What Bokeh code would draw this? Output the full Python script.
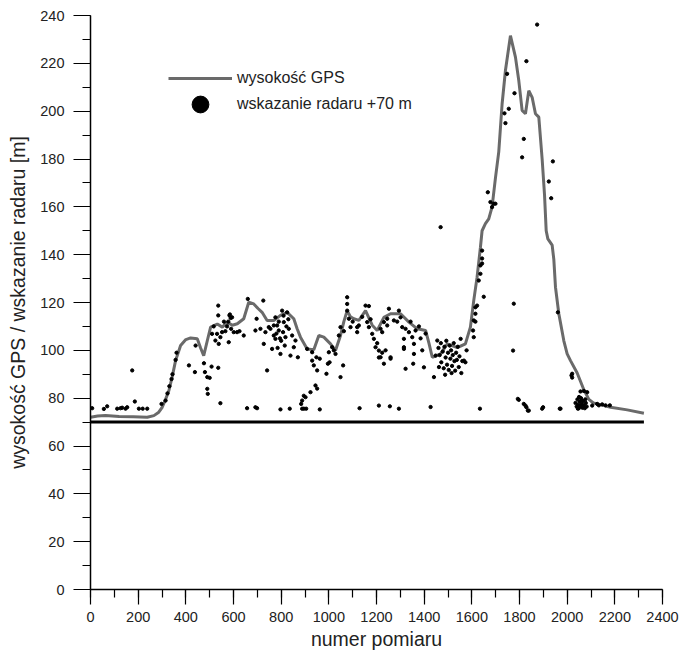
from bokeh.plotting import figure
from bokeh.models import SingleIntervalTicker, Legend, LegendItem, Range1d
from bokeh.embed import file_html
from bokeh.resources import INLINE

# ---------------- data ----------------
gps_x = [0, 30, 63, 120, 180, 238, 266, 285, 301, 315, 329, 343, 357, 378, 400, 420, 448, 462, 475,
         490, 504, 532, 553, 574, 595, 616, 643, 664, 685, 703, 720, 741, 769, 797, 825, 853, 867,
         881, 909, 937, 958, 979, 1007, 1028, 1049, 1063, 1077, 1091, 1105, 1126, 1154, 1182, 1203,
         1231, 1259, 1301, 1336, 1371, 1406, 1420, 1434, 1469, 1497, 1539, 1573, 1594, 1608, 1622,
         1636, 1643, 1657, 1671, 1685, 1699, 1713, 1727, 1741, 1762, 1783, 1797, 1811, 1825, 1839,
         1853, 1867, 1881, 1895, 1905, 1912, 1919, 1937, 1944, 1951, 1965, 1986, 2000, 2014, 2042,
         2070, 2091, 2110, 2140, 2182, 2252, 2322]
gps_y = [72, 72.5, 72.8, 72.3, 72.2, 72, 72.7, 74, 76.2, 79.5, 83.2, 89, 95.7, 102, 104.5, 105.2, 104.8,
         101, 97.8, 104, 109.7, 111, 109.7, 111.8, 110.5, 111.1, 113.2, 120.1, 119.4, 117.5, 115.9,
         112.5, 112.5, 114.6, 115.9, 113.2, 109, 105.5, 100.6, 100.2, 106.2, 105.5, 102.7, 99.9, 106.2,
         112, 116.6, 114, 113.2, 112.5, 116.6, 110.5, 108.3, 113.8, 115.3, 115.3, 111.8, 109, 108.3,
         103, 97.1, 98.5, 102.7, 101.1, 102.7, 109.7, 120.8, 130.6, 143, 150, 153, 155, 160, 172, 183,
         203, 217, 231.6, 222.6, 212.8, 200.3, 198.9, 208.6, 205.8, 198.9, 197.5, 180, 165, 150, 146.6,
         144, 138, 126.4, 115.3, 104, 98.5, 95.7, 90.5, 83.5, 79.5, 78, 77.3, 76.2, 75.1, 73.7]

# radar reading +70 m
radar_x = [
    7, 56, 70, 112, 126, 133, 147, 154, 203, 219, 238, 175, 186, 298,
    315, 323, 331, 344, 357, 361, 340,
    413, 438, 441, 476, 480, 490, 500, 490, 492, 508, 536, 545,
    510, 517, 524, 531, 536, 538, 545, 552, 566, 580, 583, 594, 601, 615, 536, 560, 573, 590, 625, 643,
    585, 588, 578,
    660, 697, 725, 692, 713, 727, 734, 748, 741, 762, 769, 776, 783, 790, 797, 804, 808, 811, 818, 825,
    832, 839, 846, 853, 860, 870, 769, 755, 776, 790, 800, 815, 822, 780, 795, 830, 810, 785,
    657, 692, 699, 797, 836, 884, 888, 895, 895, 902, 905, 923, 944, 951, 962, 888,
    909, 930, 930, 937, 948, 962, 951, 990, 996, 1003, 1000, 1014, 1021, 1028, 1049, 1060, 1042, 1049, 1063,
    1077, 1077, 1077, 1084, 1091, 1119, 1119, 1126, 1154, 1161, 1168, 1168, 1182, 1189, 1196, 1203, 1210,
    1210, 1217, 1224, 1231, 1259, 1231, 1245, 1252, 1273, 1287, 1245, 1217, 1224, 1238, 1259, 1100, 1140, 1175,
    1129, 1210, 1256, 1294, 1427,
    1294, 1301, 1308, 1315, 1315, 1322, 1336, 1343, 1350, 1357, 1357, 1364, 1378, 1399, 1406, 1441, 1354,
    1322, 1315, 1385, 1392,
    1455, 1448, 1460, 1465, 1470, 1472, 1478, 1482, 1485, 1490, 1493, 1496, 1500, 1503, 1507, 1510, 1513,
    1517, 1520, 1524, 1527, 1530, 1534, 1537, 1541, 1545, 1548, 1553, 1556, 1560, 1567, 1573, 1578, 1462,
    1488, 1515,
    1605, 1608, 1608, 1615, 1615, 1615, 1622, 1629, 1636, 1636, 1643, 1643, 1643, 1650, 1667, 1678, 1685,
    1692, 1699, 1469, 1634,
    1874, 1829, 1748, 1779, 1755, 1737, 1741, 1818, 1811, 1940, 1923, 1933, 1776, 1773, 1961,
    1793, 1797, 1818, 1825, 1829, 1835, 1839, 1895, 1899, 1969, 1972, 2018, 2021, 2021, 2056, 2070, 2084,
    2105, 2126, 2133, 2147, 2161, 2179,
    2035, 2040, 2043, 2046, 2049, 2052, 2055, 2058, 2061, 2064, 2067, 2070, 2074, 2078, 2082, 2050, 2060,
    2045, 2076]
radar_y = [
    75.8, 75.5, 76.6, 75.6, 75.8, 76, 75.6, 76.2, 75.6, 75.6, 75.6, 91.6, 78.6, 77.6,
    79, 82, 85, 90, 96, 99, 88,
    93.7, 90.9, 102, 94.6, 90.9, 88.8, 88.5, 83.9, 81.8, 93.2, 92.7, 77.9,
    106.9, 110, 104.1, 106.9, 118.7, 102.7, 105.5, 107.6, 108, 103.4, 114.6, 113.8, 107.6, 107.6, 114.6,
    112, 110, 109, 108, 106.2,
    115, 113.5, 112,
    121.5, 113.2, 120.8, 108.3, 109, 102.7, 107.6, 109.7, 91.6, 100.6, 106.2, 104.8, 110.4, 108.3, 98.5,
    116.6, 107.6, 111.8, 105.5, 115.9, 109, 97.8, 106.2, 101.3, 104.1, 97.1, 110.4, 109, 113.8, 112, 104,
    102, 110, 107, 105, 113, 114.5, 101,
    75.8, 76.2, 75.8, 75.3, 75.6, 77.6, 79, 75.6, 81, 80.4, 75.6, 82.5, 85.3, 84, 75.3, 75.6,
    100.6, 99.2, 95.7, 93.7, 97.1, 96.5, 91.6, 90.2, 94.4, 95, 99.2, 101.3, 100, 98.5, 88.8, 93.7, 106.2,
    109.7, 108,
    122.2, 119.4, 116.6, 113.2, 109.7, 107.6, 109.7, 110.4, 118.7, 111.8, 118.5, 109.7, 106.9, 104.8, 101.3,
    103, 99.9, 97, 97.1, 99, 94.4, 97.1, 111.8, 110.4, 117.4, 112.5, 112, 113.2, 109, 107.6, 100, 96.5, 112,
    114, 113,
    75.8, 76.9, 76.6, 75.6, 76.3,
    116.6, 113.8, 109.7, 104.8, 101.3, 92.3, 107.6, 112, 105.5, 102.7, 98.5, 108.3, 110, 92.9, 107, 88.8,
    94.4, 109, 100.6, 105, 100,
    104.1, 97.8, 101, 98, 103, 95, 99.5, 92.5, 101.5, 97, 104, 94, 99, 91.8, 102, 96.5, 100, 93.5, 98, 103,
    95.5, 91.5, 99, 96, 101.5, 93, 97.5, 104.8, 90.5, 95.5, 95.7, 95, 100, 93, 89.8, 90.5,
    108.3, 105.5, 112.5, 118, 112, 115.3, 118.7, 129.2, 132, 135.5, 141.7, 138.4, 136.3, 122.4, 166.1, 162,
    159.9, 161.3, 161.3, 151.5, 75.6,
    236.2, 220.9, 215.6, 207.5, 201, 199.1, 195, 188.4, 180.7, 179, 170.6, 163.6, 119.5, 99.9, 115.9,
    79.7, 79.3, 77.6, 76.9, 76.2, 74.8, 74.8, 75.6, 76.2, 75.6, 75.6, 89.5, 90.2, 88.6, 82.8, 83, 82.5,
    76.9, 77.6, 77, 77.4, 77, 77,
    78, 76.5, 79.5, 77.2, 75.8, 78.5, 76.8, 80, 77.5, 76, 78.8, 77, 75.8, 78, 76.5, 80.5, 79, 75.6, 79.5]

ref_level = 70          # radar offset line
x_ticks_step = 200
y_ticks_step = 20

FONT = "Liberation Sans"

p = figure(width=684, height=662, output_backend="svg", toolbar_location=None,
           x_range=Range1d(0, 2400), y_range=Range1d(0, 240),
           min_border_left=90, min_border_right=22, min_border_top=15, min_border_bottom=73,
           background_fill_color="white", border_fill_color="white")
p.grid.visible = False
p.outline_line_color = None

# reference level line (at +70 m), spanning the measurement range
p.line([gps_x[0], gps_x[-1]], [ref_level, ref_level], line_color="black", line_width=3)
r_line = p.line(gps_x, gps_y, line_color="#6a6a6a", line_width=3)
r_dots = p.scatter(radar_x, radar_y, size=3.3, color="black")

# axes
p.xaxis.ticker = SingleIntervalTicker(interval=x_ticks_step, num_minor_ticks=2)
p.yaxis.ticker = SingleIntervalTicker(interval=y_ticks_step, num_minor_ticks=2)
for ax in (p.xaxis[0], p.yaxis[0]):
    ax.axis_line_color = "black"
    ax.axis_line_width = 1.5
    ax.major_tick_line_color = "black"
    ax.minor_tick_line_color = "black"
    ax.major_tick_line_width = 1.2
    ax.minor_tick_line_width = 1.2
    ax.major_tick_in = 0
    ax.minor_tick_in = 0
    ax.major_label_text_font = FONT
    ax.major_label_text_font_size = "14.5px"
    ax.major_label_text_color = "#222222"
    ax.axis_label_text_font = FONT
    ax.axis_label_text_font_size = "19.5px"
    ax.axis_label_text_font_style = "normal"
    ax.axis_label_text_color = "#222222"

p.xaxis.axis_label = "numer pomiaru"
p.yaxis.axis_label = "wysokość GPS / wskazanie radaru [m]"
p.xaxis.major_tick_out = 15
p.xaxis.minor_tick_out = 8
p.xaxis.major_label_standoff = 7
p.xaxis.axis_label_standoff = 3
p.yaxis.major_tick_out = 17
p.yaxis.minor_tick_out = 8
p.yaxis.major_label_standoff = 9
p.yaxis.axis_label_standoff = 8

common = dict(padding=0, margin=0, spacing=0, label_standoff=5, glyph_width=64,
              border_line_alpha=0, background_fill_alpha=0,
              label_text_font=FONT, label_text_font_size="16px", label_text_color="#222222")
leg1 = Legend(items=[LegendItem(label="wysokość GPS", renderers=[r_line])],
              location=(78, 501), glyph_height=20, label_height=20, **common)
leg2 = Legend(items=[LegendItem(label="wskazanie radaru +70 m", renderers=[r_dots])],
              location=(78, 464), glyph_height=42, label_height=20, **common)
p.add_layout(leg1)
p.add_layout(leg2)

open("out.html", "w").write(file_html(p, INLINE))
